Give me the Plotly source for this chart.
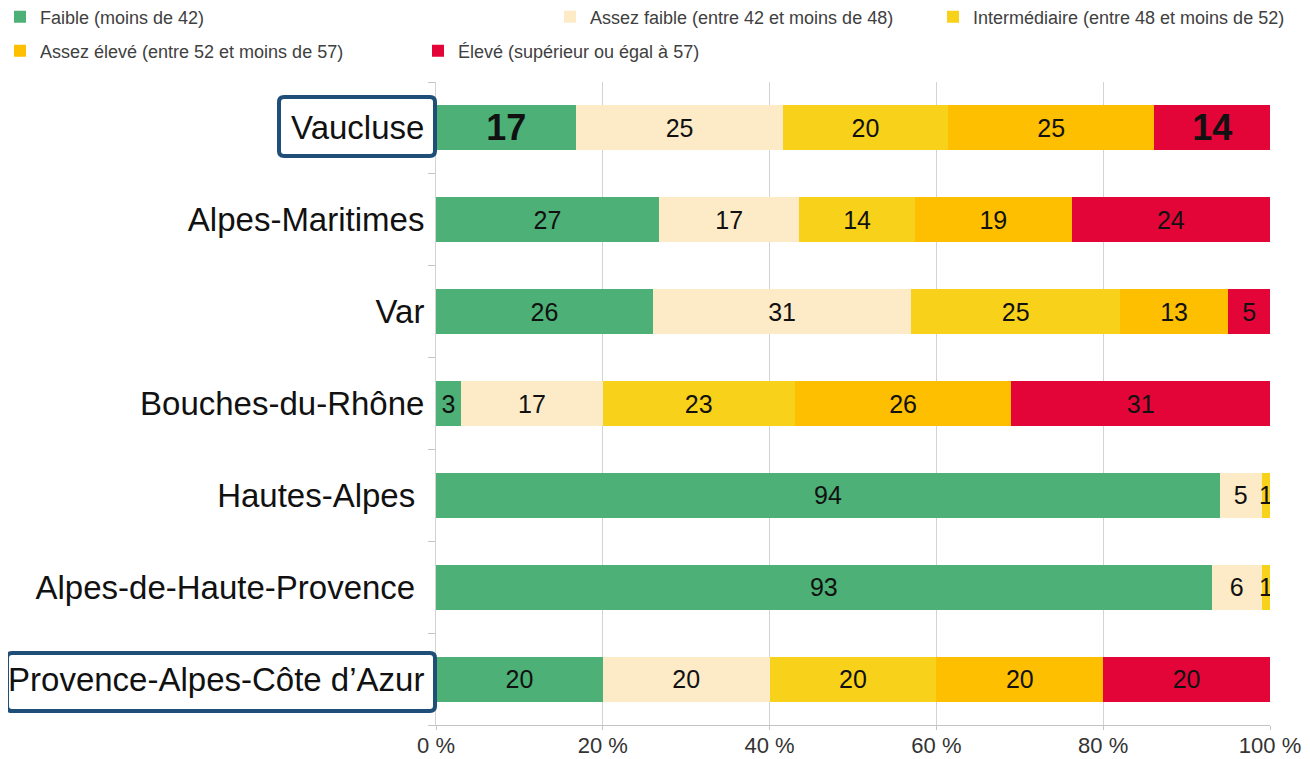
import plotly.graph_objects as go

categories = ["Vaucluse", "Alpes-Maritimes", "Var", "Bouches-du-Rhône",
              "Hautes-Alpes", "Alpes-de-Haute-Provence", "Provence-Alpes-Côte d’Azur"]
tick_labels = ["Vaucluse", "Alpes-Maritimes", "Var", "Bouches-du-Rhône",
               "Hautes-Alpes\u00a0", "Alpes-de-Haute-Provence\u00a0", "Provence-Alpes-Côte d’Azur"]

series_names = ["Faible (moins de 42)",
                "Assez faible (entre 42 et moins de 48)",
                "Intermédiaire (entre 48 et moins de 52)",
                "Assez élevé (entre 52 et moins de 57)",
                "Élevé (supérieur ou égal à 57)"]

faible = [17, 27, 26, 3, 94, 93, 20]
assez_faible = [25, 17, 31, 17, 5, 6, 20]
intermediaire = [20, 14, 25, 23, 1, 1, 20]
assez_eleve = [25, 19, 13, 26, None, None, 20]
eleve = [14, 24, 5, 31, None, None, 20]

series_values = [faible, assez_faible, intermediaire, assez_eleve, eleve]
colors = ["#4CB077", "#FDEBC8", "#F8D21A", "#FDBF00", "#E30538"]
highlight = "Vaucluse"
boxed = ["Vaucluse", "Provence-Alpes-Côte d’Azur"]
bold_series = [0, 4]

x_ticks = [0, 20, 40, 60, 80, 100]
x_tick_labels = [f"{v} %" for v in x_ticks]

FONT = "Liberation Sans, Arial, sans-serif"

# the page body has an 8px margin: figure is drawn offset by (8, 8)
OFF = 8
W, H = 1310 - OFF, 759 - OFF
ML, MR, MT, MB = 436 - OFF, 40, 82 - OFF, 34
PW, PH = W - ML - MR, H - MT - MB

fig = go.Figure()
legend_ids = ["legend", "legend2", "legend3", "legend4", "legend5"]
for i, (name, vals, col) in enumerate(zip(series_names, series_values, colors)):
    texts, sizes = [], []
    for cat, v in zip(categories, vals):
        if v is None:
            texts.append("")
            sizes.append(25)
        elif cat == highlight and i in bold_series:
            texts.append(f"<b>{v}</b>")
            sizes.append(36)
        else:
            texts.append(str(v))
            sizes.append(25)
    fig.add_trace(go.Bar(
        y=categories, x=vals, name=name, orientation="h",
        marker=dict(color=col, line=dict(width=0)),
        text=texts, textposition="inside", insidetextanchor="middle",
        textangle=0, constraintext="none",
        textfont=dict(size=sizes, color="#111111", family=FONT),
        legend=legend_ids[i], hoverinfo="skip",
    ))

# legend positions (text start x in px, row center y in px) in page coordinates
leg_pos = [(40, 17), (590, 17), (973, 17), (40, 51), (458, 51)]
legend_layouts = {}
for lid, (tx, ty) in zip(legend_ids, leg_pos):
    legend_layouts[lid] = dict(
        x=(tx - 40 - OFF - ML) / PW, y=1 + (MT - (ty - OFF)) / PH,
        xref="paper", yref="paper",
        xanchor="left", yanchor="middle", orientation="h",
        font=dict(size=18, color="#404040", family=FONT),
        bgcolor="rgba(0,0,0,0)", borderwidth=0,
    )

def rounded_path(x0, x1, y0, y1, r=5):
    # pixel offsets relative to anchor; y positive upward
    return (f"M{x0 + r},{y1} L{x1 - r},{y1} Q{x1},{y1} {x1},{y1 - r} "
            f"L{x1},{y0 + r} Q{x1},{y0} {x1 - r},{y0} "
            f"L{x0 + r},{y0} Q{x0},{y0} {x0},{y0 + r} "
            f"L{x0},{y1 - r} Q{x0},{y1} {x0 + r},{y1} Z")

n = len(categories)
box_geom = {  # (left px offset, right px offset, bottom offset, top offset) from axis/row center
    "Vaucluse": (-157, -1, -28, 31),
    "Provence-Alpes-Côte d’Azur": (-429, -1, -32, 26),
}
shapes = []
for cat in boxed:
    idx = categories.index(cat)
    y_center_paper = (n - 0.5 - idx) / n
    x0, x1, y0, y1 = box_geom[cat]
    shapes.append(dict(
        type="path", xref="paper", yref="paper", xsizemode="pixel", ysizemode="pixel",
        xanchor=0, yanchor=y_center_paper, path=rounded_path(x0, x1, y0, y1),
        line=dict(color="#1F4E79", width=4), layer="above"))

fig.update_layout(
    width=W, height=H,
    barmode="stack", barnorm="percent", bargap=0.51,
    margin=dict(l=ML, r=MR, t=MT, b=MB, autoexpand=False),
    plot_bgcolor="white", paper_bgcolor="white",
    font=dict(family=FONT, color="#111111"),
    shapes=shapes,
    showlegend=True,
    **legend_layouts,
)
fig.update_xaxes(
    range=[0, 100], tickvals=x_ticks, ticktext=x_tick_labels,
    showgrid=True, gridcolor="#D3D3D3", gridwidth=1, zeroline=False,
    showline=True, linecolor="#C4C4C4", linewidth=1,
    ticks="outside", ticklen=4, tickcolor="#C4C4C4", ticklabelstandoff=-3,
    tickfont=dict(size=22, color="#333333", family=FONT),
)
fig.update_yaxes(
    categoryorder="array", categoryarray=categories,
    tickvals=categories, ticktext=tick_labels,
    autorange="reversed", tickson="boundaries",
    showline=True, linecolor="#D3D3D3", linewidth=1,
    ticks="outside", ticklen=7, tickcolor="#C4C4C4", ticklabelstandoff=4,
    tickfont=dict(size=33, color="#111111", family=FONT),
    showgrid=False,
)

fig.write_html("out.html")
